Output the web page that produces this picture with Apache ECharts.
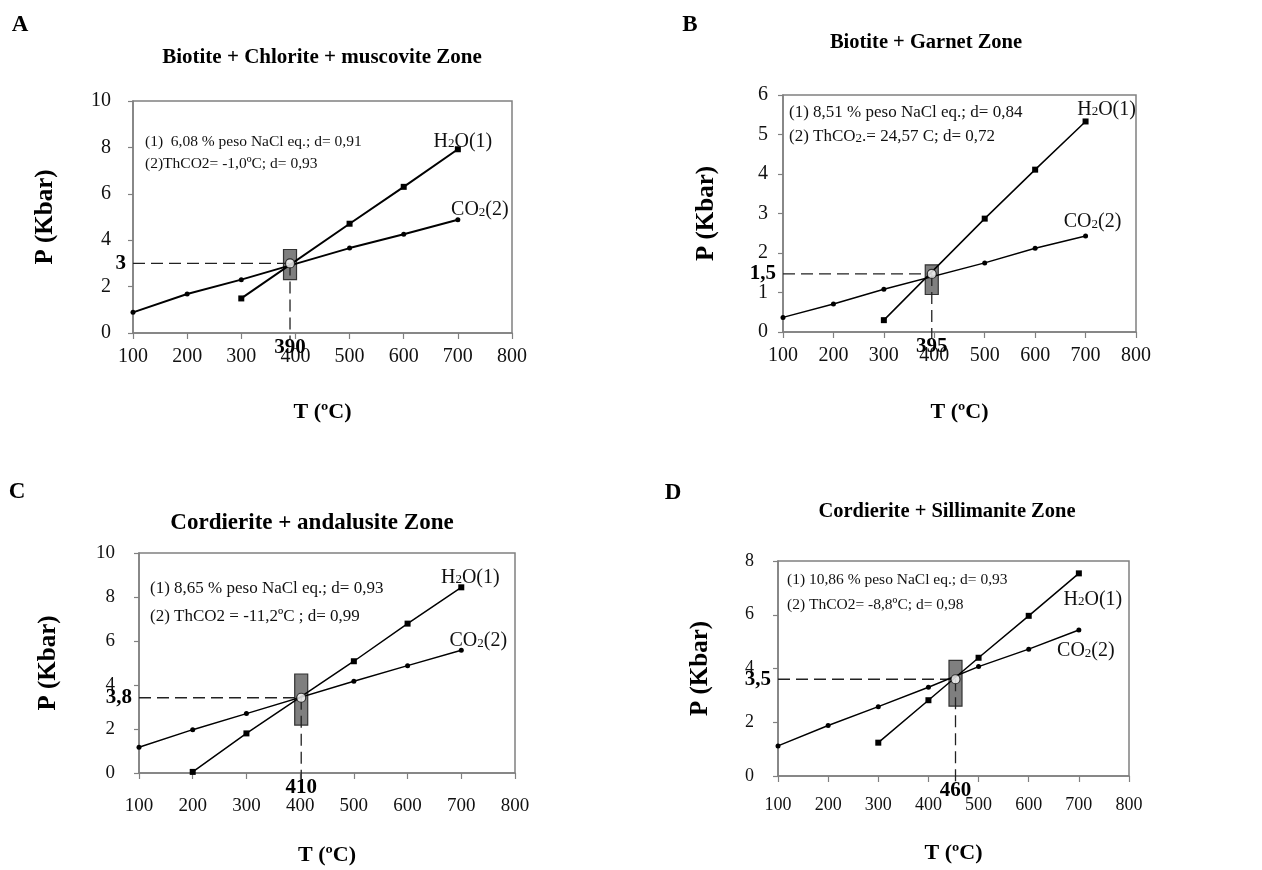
<!DOCTYPE html>
<html>
<head>
<meta charset="utf-8">
<script src="https://cdn.jsdelivr.net/npm/echarts@6/dist/echarts.min.js"></script>
<style>
  html, body { margin: 0; background: #fff; }
  #chart { width: 1262px; height: 870px; }
</style>
</head>
<body>
<div id="chart"></div>
<script>
  // ---- data: [T (ºC), P (Kbar)] ----
  // A  Biotite + Chlorite + muscovite Zone
  const h2oA = [[300, 1.49], [500, 4.71], [600, 6.30], [700, 7.92]];
  const co2A = [[100, 0.89], [200, 1.68], [300, 2.30], [500, 3.66], [600, 4.26], [700, 4.88]];
  // B  Biotite + Garnet Zone
  const h2oB = [[300, 0.30], [500, 2.87], [600, 4.11], [700, 5.33]];
  const co2B = [[100, 0.37], [200, 0.71], [300, 1.08], [500, 1.75], [600, 2.12], [700, 2.43]];
  // C  Cordierite + andalusite Zone
  const h2oC = [[200, 0.05], [300, 1.80], [500, 5.08], [600, 6.79], [700, 8.44]];
  const co2C = [[100, 1.17], [200, 1.97], [300, 2.70], [500, 4.17], [600, 4.88], [700, 5.58]];
  // D  Cordierite + Sillimanite Zone
  const h2oD = [[300, 1.24], [400, 2.82], [500, 4.40], [600, 5.96], [700, 7.54]];
  const co2D = [[100, 1.12], [200, 1.88], [300, 2.58], [400, 3.30], [500, 4.07], [600, 4.72], [700, 5.43]];

  // crossing point: T, P, box bottom P, box top P (as drawn)
  const crossA = [390, 3.0, 2.3, 3.6];
  const crossB = [395, 1.47, 0.95, 1.7];
  const crossC = [402, 3.42, 2.18, 4.5];
  const crossD = [454, 3.6, 2.6, 4.3];
  // labels printed at the crossing (P on y axis, T under x axis)
  const crossText = [['3', '390'], ['1,5', '395'], ['3,8', '410'], ['3,5', '460']];

  const letters = ['A', 'B', 'C', 'D'];
  const titles = [
    'Biotite + Chlorite + muscovite Zone',
    'Biotite + Garnet Zone',
    'Cordierite + andalusite Zone',
    'Cordierite + Sillimanite Zone'
  ];
  const notes = [
    ['(1)  6,08 % peso NaCl eq.; d= 0,91', '(2)ThCO2= -1,0ºC; d= 0,93'],
    ['(1) 8,51 % peso NaCl eq.; d= 0,84', '(2) ThCO{s|2}.= 24,57 C; d= 0,72'],
    ['(1) 8,65 % peso NaCl eq.; d= 0,93', '(2) ThCO2 = -11,2ºC ; d= 0,99'],
    ['(1) 10,86 % peso NaCl eq.; d= 0,93', '(2) ThCO2= -8,8ºC; d= 0,98']
  ];
  const yMax = [10, 6, 10, 8];
  const yStep = [2, 1, 2, 2];

  const h2oAll = [h2oA, h2oB, h2oC, h2oD];
  const co2All = [co2A, co2B, co2C, co2D];
  const crossAll = [crossA, crossB, crossC, crossD];

  // ---- layout of the four panels ----
  const panels = [
    { grid: [133, 101, 379, 232], letter: [20, 25], title: [322, 58, 21], note: [145, 142, 22, 15.5],
      yGap: 22, xGap: 14, font: 20, yName: 75, xName: 68, lw: 2,
      h2oOff: [5, -8], co2Off: [22, -10] },
    { grid: [783, 95, 353, 237], letter: [690, 25], title: [926, 43, 20.5], note: [789, 113, 24, 17],
      yGap: 15, xGap: 14, font: 20, yName: 64, xName: 69, lw: 1.5,
      h2oOff: [21, -12], co2Off: [7, -14] },
    { grid: [139, 553, 376, 220], letter: [17, 492], title: [312, 523, 23], note: [150, 589, 28, 17],
      yGap: 24, xGap: 24, font: 19, yName: 78, xName: 71, lw: 1.5,
      h2oOff: [9, -10], co2Off: [17, -9] },
    { grid: [778, 561, 351, 215], letter: [673, 493], title: [947, 512, 20.5], note: [787, 580, 25, 15.5],
      yGap: 24, xGap: 20, font: 18, yName: 65, xName: 66, lw: 1.5,
      h2oOff: [14, 26], co2Off: [7, 21] }
  ];

  const SERIF = '"Liberation Serif", "Times New Roman", serif';
  const AXIS_GREY = '#808080';

  const grids = [], xAxes = [], yAxes = [], series = [], graphics = [];

  function endLabel(data, rich, offset) {
    return data.map(function (p, j) {
      if (j !== data.length - 1) return p;
      return {
        value: p,
        label: {
          show: true, position: 'inside', offset: offset,
          formatter: rich,
          rich: {
            n: { fontFamily: SERIF, fontSize: 20, color: '#111', verticalAlign: 'bottom' },
            s: { fontFamily: SERIF, fontSize: 13, color: '#111', verticalAlign: 'bottom', padding: [0, 0, 1, 0] }
          }
        }
      };
    });
  }

  function crossItem(text) {
    return function (params, api) {
      const t = api.value(0), p = api.value(1);
      const c = api.coord([t, p]);
      const lo = api.coord([t, api.value(2)]);
      const hi = api.coord([t, api.value(3)]);
      const x0 = api.coord([100, p]);
      const base = api.coord([t, 0]);
      const dash = { stroke: '#222', lineWidth: 1.3, lineDash: [12, 6], fill: null };
      return {
        type: 'group',
        children: [
          { type: 'rect', shape: { x: c[0] - 6.5, y: hi[1], width: 13, height: lo[1] - hi[1] },
            style: { fill: '#7f7f7f', stroke: '#333', lineWidth: 1.2 } },
          { type: 'line', shape: { x1: x0[0], y1: c[1], x2: c[0], y2: c[1] }, style: dash },
          { type: 'line', shape: { x1: c[0], y1: c[1], x2: c[0], y2: base[1] + 7 }, style: dash },
          { type: 'text', x: x0[0] - 7, y: c[1],
            style: { text: text[0], font: 'bold 21px ' + SERIF, fill: '#000', align: 'right', verticalAlign: 'middle' } },
          { type: 'text', x: c[0], y: base[1] + 4,
            style: { text: text[1], font: 'bold 21px ' + SERIF, fill: '#000', align: 'center', verticalAlign: 'top' } }
        ]
      };
    };
  }

  panels.forEach(function (pn, i) {
    grids.push({
      left: pn.grid[0], top: pn.grid[1], width: pn.grid[2], height: pn.grid[3],
      show: true, borderColor: AXIS_GREY, borderWidth: 1.5, backgroundColor: 'transparent',
      outerBoundsMode: 'none'
    });
    xAxes.push({
      gridIndex: i, type: 'value', min: 100, max: 800, interval: 100,
      name: 'T (ºC)', nameLocation: 'middle', nameGap: pn.xName,
      nameTextStyle: { fontFamily: SERIF, fontWeight: 'bold', fontSize: 22, color: '#000' },
      axisLine: { lineStyle: { color: AXIS_GREY, width: 1.5 } },
      axisTick: { show: true, length: 6, lineStyle: { color: AXIS_GREY, width: 1.2 } },
      axisLabel: { fontFamily: SERIF, fontSize: pn.font, color: '#111', margin: pn.xGap },
      splitLine: { show: false }
    });
    yAxes.push({
      gridIndex: i, type: 'value', min: 0, max: yMax[i], interval: yStep[i],
      name: 'P (Kbar)', nameLocation: 'middle', nameGap: pn.yName, nameRotate: 90,
      nameTextStyle: { fontFamily: SERIF, fontWeight: 'bold', fontSize: 25, color: '#000' },
      axisLine: { show: true, lineStyle: { color: AXIS_GREY, width: 1.5 } },
      axisTick: { show: true, length: 5, lineStyle: { color: AXIS_GREY, width: 1.2 } },
      axisLabel: { fontFamily: SERIF, fontSize: pn.font, color: '#111', margin: pn.yGap },
      splitLine: { show: false }
    });

    series.push({
      type: 'custom', xAxisIndex: i, yAxisIndex: i, z: 1, silent: true,
      renderItem: crossItem(crossText[i]),
      data: [crossAll[i]]
    });
    series.push({
      type: 'line', name: 'H2O(1)', xAxisIndex: i, yAxisIndex: i, z: 3,
      symbol: 'rect', symbolSize: 6, showAllSymbol: true,
      lineStyle: { color: '#000', width: pn.lw },
      itemStyle: { color: '#000' },
      data: endLabel(h2oAll[i], '{n|H}{s|2}{n|O(1)}', pn.h2oOff)
    });
    series.push({
      type: 'line', name: 'CO2(2)', xAxisIndex: i, yAxisIndex: i, z: 3,
      symbol: 'circle', symbolSize: 5, showAllSymbol: true,
      lineStyle: { color: '#000', width: pn.lw },
      itemStyle: { color: '#000' },
      data: endLabel(co2All[i], '{n|CO}{s|2}{n|(2)}', pn.co2Off)
    });
    series.push({
      type: 'scatter', xAxisIndex: i, yAxisIndex: i, z: 5, silent: true,
      symbol: 'circle', symbolSize: 9,
      itemStyle: { color: '#fff', borderColor: '#111', borderWidth: 1.2 },
      data: [[crossAll[i][0], crossAll[i][1]]]
    });

    graphics.push({
      type: 'text', x: pn.letter[0], y: pn.letter[1],
      style: { text: letters[i], font: 'bold 23px ' + SERIF, fill: '#000', align: 'center', verticalAlign: 'middle' }
    });
    graphics.push({
      type: 'text', x: pn.title[0], y: pn.title[1],
      style: { text: titles[i], font: 'bold ' + pn.title[2] + 'px ' + SERIF, fill: '#000', align: 'center', verticalAlign: 'middle' }
    });
    notes[i].forEach(function (line, k) {
      graphics.push({
        type: 'text', x: pn.note[0], y: pn.note[1] + k * pn.note[2],
        style: {
          text: line, font: pn.note[3] + 'px ' + SERIF, fill: '#111', align: 'left', verticalAlign: 'middle',
          rich: { s: { fontFamily: SERIF, fontSize: pn.note[3] - 4, fill: '#111', verticalAlign: 'bottom' } }
        }
      });
    });
  });

  const chart = echarts.init(document.getElementById('chart'));
  chart.setOption({
    backgroundColor: '#fff',
    animation: false,
    grid: grids,
    xAxis: xAxes,
    yAxis: yAxes,
    series: series,
    graphic: graphics
  });
</script>
</body>
</html>
